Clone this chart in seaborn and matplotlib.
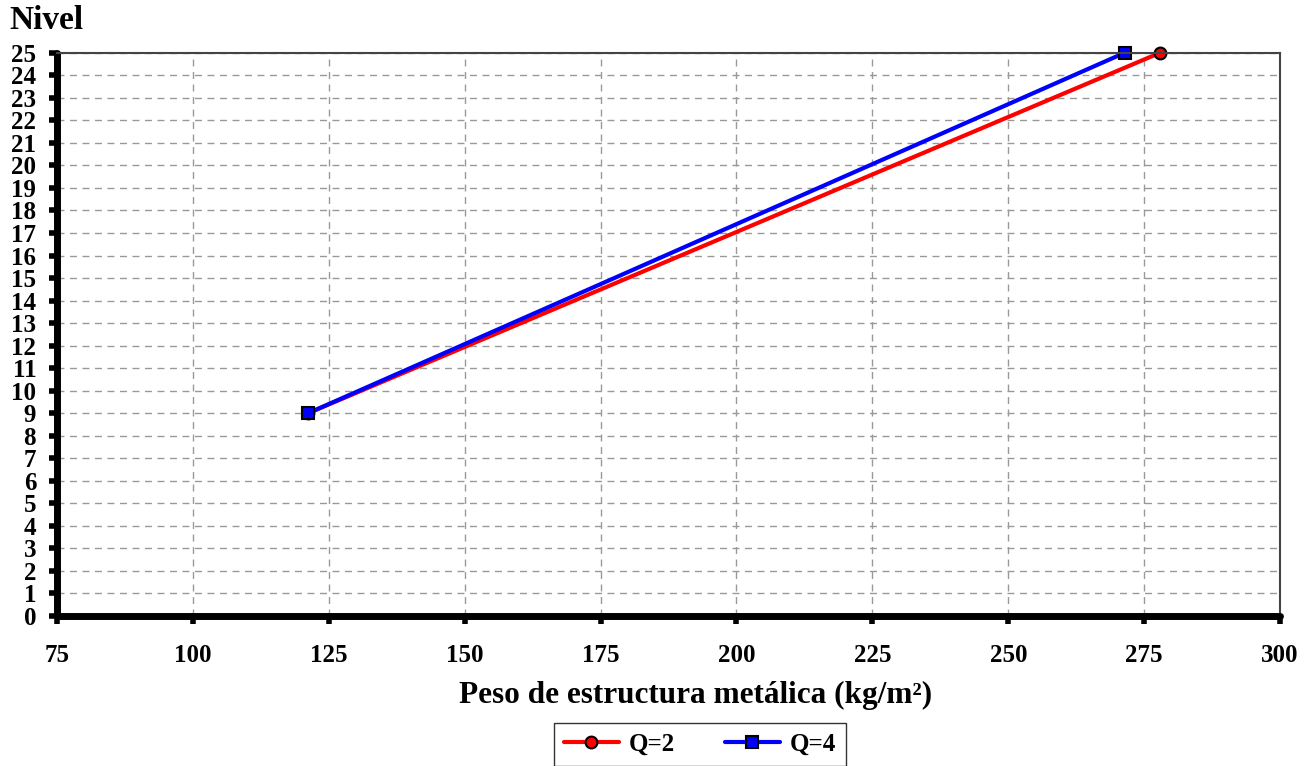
import matplotlib
matplotlib.use("Agg")
import matplotlib.pyplot as plt
import seaborn as sns
import pandas as pd

# Data
niveles = [9, 25]
peso_q2 = [121.2, 277.9]
peso_q4 = [121.2, 271.4]
series = ["Q=2", "Q=4"]
x_ticks = [75, 100, 125, 150, 175, 200, 225, 250, 275, 300]
y_ticks = list(range(0, 26))

df = pd.DataFrame({
    "peso": peso_q2 + peso_q4,
    "nivel": niveles + niveles,
    "serie": [series[0]] * len(niveles) + [series[1]] * len(niveles),
})

sns.set_theme(style="white")
plt.rcParams['font.family'] = ['Liberation Serif', 'DejaVu Serif']
plt.rcParams['font.weight'] = 'bold'
plt.rcParams['text.color'] = 'black'
plt.rcParams['xtick.color'] = 'black'
plt.rcParams['ytick.color'] = 'black'
plt.rcParams['axes.labelcolor'] = 'black'

fig = plt.figure(figsize=(13.13, 7.66), dpi=100)
ax = fig.add_axes([0.0434, 0.196, 0.9315, 0.735])

sns.lineplot(data=df, x="peso", y="nivel", hue="serie", style="serie",
             palette={"Q=2": "#ff0000", "Q=4": "#0000ff"},
             markers={"Q=2": "o", "Q=4": "s"}, dashes=False,
             markersize=8.5, markeredgecolor="black", markeredgewidth=1.5,
             linewidth=3, ax=ax, sort=False)
for ln in ax.lines:
    ln.set_clip_on(False)

ax.set_xlim(75, 300)
ax.set_ylim(0, 25)
ax.set_xticks(x_ticks)
ax.set_yticks(y_ticks)
ax.grid(True, linestyle=(0, (5, 4)), color="#999999", linewidth=1)
ax.set_axisbelow(True)

for s in ["left", "bottom"]:
    ax.spines[s].set_linewidth(5)
    ax.spines[s].set_color("black")
    ax.spines[s].set_capstyle("round")
for s in ["top", "right"]:
    ax.spines[s].set_linewidth(1.5)
    ax.spines[s].set_color("#444444")

ax.tick_params(axis="both", direction="out", length=6, width=4, color="black",
               labelsize=18, labelcolor="black", bottom=True, left=True)
ax.tick_params(axis="x", pad=14)
ax.tick_params(axis="y", pad=9)
for lbl in ax.get_xticklabels() + ax.get_yticklabels():
    lbl.set_fontweight("bold")

ax.set_xlabel("Peso de estructura metálica (kg/m²)", fontsize=22.5, fontweight="bold",
              color="black")
ax.xaxis.set_label_coords(0.5225, -0.116)
ax.xaxis.label.set_va("top")
ax.set_ylabel("")
fig.text(0.007, 0.953, "Nivel", fontsize=24, fontweight="bold", ha="left", va="bottom",
         color="black")

handles, labels = ax.get_legend_handles_labels()
leg = ax.legend(handles, labels, loc="upper center", bbox_to_anchor=(0.5257, -0.19), ncol=2,
                frameon=True, fancybox=False, edgecolor="black", fontsize=18,
                handlelength=2.2, columnspacing=2.0, borderpad=0.4, handletextpad=0.4,
                borderaxespad=0)
leg.get_frame().set_linewidth(1)
for t in leg.get_texts():
    t.set_fontweight("bold")
    t.set_color("black")

fig.savefig("out.png", dpi=100)
